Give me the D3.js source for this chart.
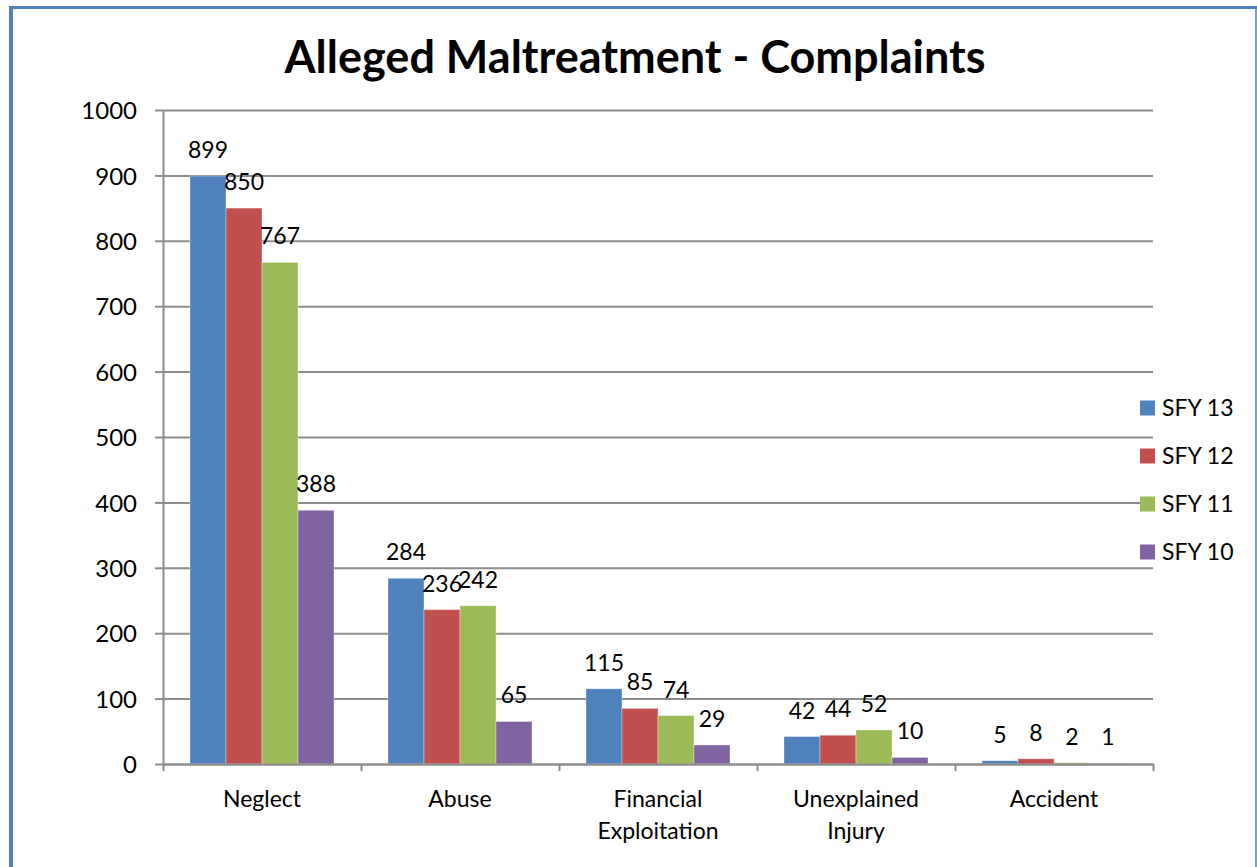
<!DOCTYPE html>
<html>
<head>
<meta charset="utf-8">
<script src="https://cdn.jsdelivr.net/npm/d3@7"></script>
<style>
  body { margin: 0; background: #fff; }
  svg text { font-family: Lato, "Open Sans", sans-serif; fill: #000; }
</style>
</head>
<body>
<div id="chart"></div>
<script>
// dati del grafico
const categories = ['Neglect', 'Abuse', 'Financial Exploitation', 'Unexplained Injury', 'Accident'];
const categoryLines = [['Neglect'], ['Abuse'], ['Financial', 'Exploitation'], ['Unexplained', 'Injury'], ['Accident']];
const seriesNames = ['SFY 13', 'SFY 12', 'SFY 11', 'SFY 10'];
const sfy13 = [899, 284, 115, 42, 5];
const sfy12 = [850, 236, 85, 44, 8];
const sfy11 = [767, 242, 74, 52, 2];
const sfy10 = [388, 65, 29, 10, 1];
const yTicks = [0, 100, 200, 300, 400, 500, 600, 700, 800, 900, 1000];
const colors = ['#4f81bd', '#c0504d', '#9bbb59', '#8064a2'];

const seriesValues = [sfy13, sfy12, sfy11, sfy10];

const W = 1257, H = 867;
const plot = { left: 163, right: 1153, top: 110, bottom: 764 };
const plotW = plot.right - plot.left;

const svg = d3.select('#chart')
    .append('svg')
    .attr('width', W)
    .attr('height', H);

svg.append('rect').attr('width', W).attr('height', H).attr('fill', '#fff');

// cornice
svg.append('line').attr('x1', 9).attr('x2', W).attr('y1', 7.5).attr('y2', 7.5)
    .attr('stroke', '#4f81bd').attr('stroke-width', 3);
svg.append('line').attr('x1', 11).attr('x2', 11).attr('y1', 6).attr('y2', H)
    .attr('stroke', '#4f81bd').attr('stroke-width', 4);
svg.append('line').attr('x1', 1256).attr('x2', 1256).attr('y1', 6).attr('y2', H)
    .attr('stroke', '#4f81bd').attr('stroke-width', 1.5);

// scale
const y = d3.scaleLinear().domain([0, 1000]).range([plot.bottom, plot.top]);
const x0 = d3.scaleBand().domain(categories).range([plot.left, plot.right]).paddingInner(0).paddingOuter(0);
const x1 = d3.scaleBand().domain(seriesNames).range([27, x0.bandwidth() - 27]).padding(0);
const xEdge = d3.scaleLinear().domain([0, categories.length]).range([plot.left, plot.right]);

// griglia
const grid = svg.append('g')
    .attr('transform', `translate(${plot.left},0)`)
    .call(d3.axisLeft(y).tickValues(yTicks).tickSize(-plotW).tickFormat(''));
grid.select('.domain').remove();
grid.selectAll('line').attr('stroke', '#8c8c8c').attr('stroke-width', 2);

// asse y
const yAxis = svg.append('g')
    .attr('transform', `translate(${plot.left},0)`)
    .call(d3.axisLeft(y).tickValues(yTicks).tickFormat(d3.format('d'))
        .tickSize(8).tickPadding(18).tickSizeOuter(0));
yAxis.select('.domain').attr('stroke', '#8c8c8c').attr('stroke-width', 2);
yAxis.selectAll('line').attr('stroke', '#8c8c8c').attr('stroke-width', 2);
yAxis.selectAll('text').style('font-size', '24px').attr('dy', '0.36em');

// barre
const groups = svg.append('g')
    .selectAll('g')
    .data(categories)
    .join('g')
    .attr('transform', d => `translate(${x0(d)},0)`);

groups.selectAll('rect')
    .data((c, i) => seriesNames.map((s, j) => ({ s, v: seriesValues[j][i], j })))
    .join('rect')
    .attr('x', d => x1(d.s))
    .attr('y', d => y(d.v))
    .attr('width', x1.bandwidth())
    .attr('height', d => y(0) - y(d.v))
    .attr('fill', d => colors[d.j])
    .attr('stroke', 'rgba(255,255,255,0.35)')
    .attr('stroke-width', 1);

// etichette valori
groups.selectAll('text.val')
    .data((c, i) => seriesNames.map((s, j) => ({ s, v: seriesValues[j][i], j })))
    .join('text')
    .attr('class', 'val')
    .attr('x', d => x1(d.s) + x1.bandwidth() / 2)
    .attr('y', d => y(d.v) - 18)
    .attr('text-anchor', 'middle')
    .style('font-size', '23px')
    .text(d => d.v);

// asse x
const xAxis = svg.append('g')
    .attr('transform', `translate(0,${plot.bottom})`)
    .call(d3.axisBottom(xEdge).ticks(categories.length).tickSize(7).tickSizeOuter(0).tickFormat(''));
xAxis.select('.domain').attr('stroke', '#8c8c8c').attr('stroke-width', 2);
xAxis.selectAll('line').attr('stroke', '#8c8c8c').attr('stroke-width', 2);

svg.append('g')
    .selectAll('text')
    .data(categories)
    .join('text')
    .attr('text-anchor', 'middle')
    .attr('x', d => x0(d) + x0.bandwidth() / 2)
    .attr('y', 807)
    .style('font-size', '23px')
    .each(function(d, i) {
        const t = d3.select(this);
        categoryLines[i].forEach((line, k) => {
            t.append('tspan')
                .attr('x', x0(d) + x0.bandwidth() / 2)
                .attr('dy', k === 0 ? 0 : 32)
                .text(line);
        });
    });

// titolo
svg.append('text')
    .attr('x', 635)
    .attr('y', 73)
    .attr('text-anchor', 'middle')
    .style('font-size', '45px')
    .style('font-weight', 'bold')
    .text('Alleged Maltreatment - Complaints');

// legenda
const legend = svg.append('g')
    .attr('transform', 'translate(1140,408)');

legend.selectAll('g')
    .data(seriesNames)
    .join('g')
    .attr('transform', (d, i) => `translate(0,${i * 48})`)
    .each(function(d, i) {
        const g = d3.select(this);
        g.append('rect')
            .attr('x', 0)
            .attr('y', -7.5)
            .attr('width', 15)
            .attr('height', 15)
            .attr('fill', colors[i]);
        g.append('text')
            .attr('x', 22)
            .attr('y', 0)
            .attr('dy', '0.36em')
            .style('font-size', '23px')
            .text(d);
    });
</script>
</body>
</html>
